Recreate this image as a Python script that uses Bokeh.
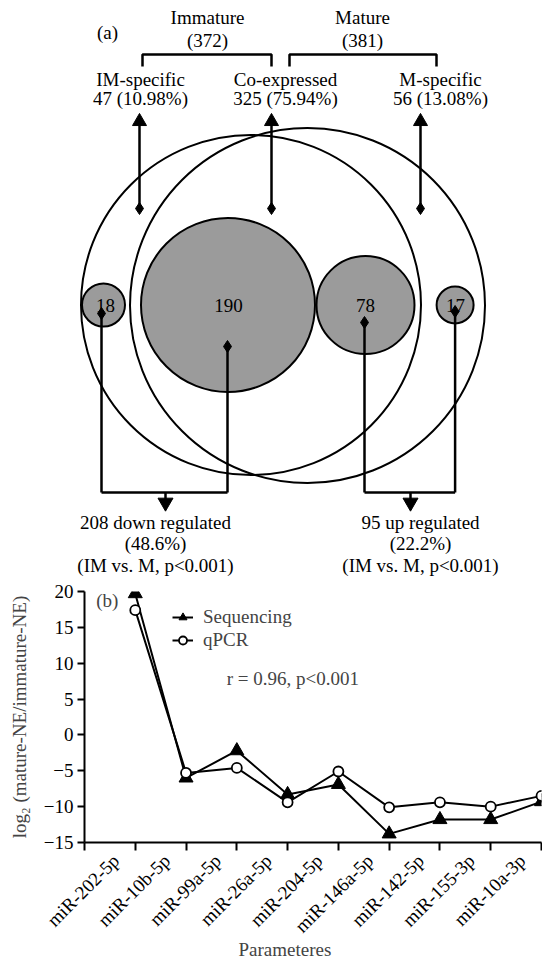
import math
from bokeh.plotting import figure
from bokeh.models import Range1d, Label, Legend, LegendItem, FixedTicker, ColumnDataSource, Title
from bokeh.layouts import column
from bokeh.embed import file_html
from bokeh.resources import INLINE
from bokeh.core.properties import value

# ---------------- data ----------------
group_names = ["Immature", "Mature"]
group_counts = [372, 381]
subset_names = ["IM-specific", "Co-expressed", "M-specific"]
subset_counts = [47, 325, 56]
subset_pcts = [10.98, 75.94, 13.08]
reg_counts = [18, 190, 78, 17]          # IM-spec down, co down, co up, M-spec up
reg_names = ["down regulated", "up regulated"]
reg_pcts = [48.6, 22.2]
reg_note = "(IM vs. M, p<0.001)"

mirnas = ["miR-202-5p", "miR-10b-5p", "miR-99a-5p", "miR-26a-5p", "miR-204-5p",
          "miR-146a-5p", "miR-142-5p", "miR-155-3p", "miR-10a-3p"]
seq_vals = [19.7, -6.0, -2.2, -8.3, -6.9, -13.8, -11.8, -11.8, -9.3]
qpcr_vals = [17.4, -5.3, -4.6, -9.4, -5.1, -10.1, -9.4, -10.0, -8.5]
corr_text = "r = 0.96, p<0.001"

# ---------------- styles / layout ----------------
FONT = "Liberation Serif"
FS = "19px"
W = 542
HA = 580
GRAY = "#9b9b9b"

# panel (a) layout, page pixel coordinates
GX = [207, 362]
BRK = [(142, 271), (289, 436)]
SX = [140, 285, 440]
TOP_ARROW_X = [139, 271, 420]
BIG = [(250.5, 304.5, 170.0), (307.0, 305.0, 177.5)]
SMALL_X = [103, 227.5, 365, 454.6]
SMALL_R = [21.5, 87.0, 49.0, 18.5]
SMALL_Y = 304.5
NUM_X = [105, 228, 365, 455]
DIA_X = [101, 227, 364, 454.6]
DIA_Y = [313, 346, 322, 311]
LOW_Y = 492
SUM_ARROW_X = [165, 410]
SUM_X = [155, 420]

pa = figure(width=W, height=HA, x_range=Range1d(0, W), y_range=Range1d(HA, 0),
            output_backend="svg", toolbar_location=None, min_border=0,
            x_axis_type=None, y_axis_type=None, frame_align=False)
pa.grid.visible = False
pa.outline_line_color = None

# big circles
pa.ellipse(x=[b[0] for b in BIG], y=[b[1] for b in BIG],
           width=[2 * b[2] for b in BIG], height=[2 * b[2] for b in BIG],
           fill_color=None, line_color="black", line_width=2)
# small circles
pa.ellipse(x=SMALL_X, y=[SMALL_Y] * 4, width=[2 * r for r in SMALL_R],
           height=[2 * r for r in SMALL_R], fill_color=GRAY, line_color="black", line_width=2)

# lines
xs, ys = [], []
for (x0, x1) in BRK:
    xs.append([x0, x0, x1, x1]); ys.append([66, 54, 54, 66])
for x in TOP_ARROW_X:
    xs.append([x, x]); ys.append([120, 208])
for i, x in enumerate(DIA_X):
    xs.append([x, x]); ys.append([DIA_Y[i], LOW_Y])
xs.append([DIA_X[0], DIA_X[1]]); ys.append([LOW_Y, LOW_Y])
xs.append([DIA_X[2], DIA_X[3]]); ys.append([LOW_Y, LOW_Y])
for x in SUM_ARROW_X:
    xs.append([x, x]); ys.append([LOW_Y, 503])
pa.multi_line(xs=xs, ys=ys, line_color="black", line_width=2.5)

# arrow heads and diamonds
pa.scatter(x=TOP_ARROW_X, y=[121] * 3, marker="triangle", size=14, color="black")
pa.scatter(x=SUM_ARROW_X, y=[502] * 2, marker="inverted_triangle", size=15, color="black")
pa.scatter(x=TOP_ARROW_X + DIA_X, y=[208] * 3 + DIA_Y, marker="diamond", size=12, color="black")

# texts
tx, ty, tt = [], [], []
tx.append(107); ty.append(32); tt.append("(a)")
for i in range(2):
    tx += [GX[i], GX[i]]; ty += [17, 40]; tt += [group_names[i], f"({group_counts[i]})"]
for i in range(3):
    tx += [SX[i], SX[i]]; ty += [79, 98]
    tt += [subset_names[i], f"{subset_counts[i]} ({subset_pcts[i]:.2f}%)"]
for i in range(4):
    tx.append(NUM_X[i]); ty.append(SMALL_Y); tt.append(str(reg_counts[i]))
sums = [reg_counts[0] + reg_counts[1], reg_counts[2] + reg_counts[3]]
for i in range(2):
    tx += [SUM_X[i]] * 3; ty += [522, 543, 565]
    tt += [f"{sums[i]} {reg_names[i]}", f"({reg_pcts[i]}%)", reg_note]
pa.text(x=tx, y=ty, text=tt, text_font=value(FONT), text_font_size=value(FS),
        text_align="center", text_baseline="middle", text_color="black")

# ---------------- panel (b) ----------------
pb = figure(frame_width=457, frame_height=251, x_range=Range1d(0, 9), y_range=Range1d(-15, 20),
            output_backend="svg", toolbar_location=None, frame_align=False,
            min_border_left=84, min_border_right=1, min_border_top=591 - HA,
            min_border_bottom=960 - 842)
pb.grid.visible = False
pb.outline_line_color = None

xpos = list(range(1, len(mirnas) + 1))
src = ColumnDataSource(dict(x=xpos, seq=seq_vals, q=qpcr_vals))
l1 = pb.line("x", "seq", source=src, line_color="black", line_width=2)
s1 = pb.scatter("x", "seq", source=src, marker="triangle", size=14, color="black")
l2 = pb.line("x", "q", source=src, line_color="black", line_width=2)
s2 = pb.scatter("x", "q", source=src, marker="circle", size=10, fill_color="white",
                line_color="black", line_width=1.8)

for ax in (pb.xaxis[0], pb.yaxis[0]):
    ax.axis_line_width = 2
    ax.major_tick_line_width = 2
    ax.major_tick_in = 0
    ax.minor_tick_line_color = None
    ax.major_label_text_font = FONT
    ax.major_label_text_font_size = FS
    ax.major_label_text_color = "black"
    ax.axis_label_text_font = FONT
    ax.axis_label_text_font_size = FS
    ax.axis_label_text_font_style = "normal"

pb.yaxis.ticker = FixedTicker(ticks=[-15, -10, -5, 0, 5, 10, 15, 20])
pb.yaxis.major_tick_out = 7
pb.yaxis.major_label_standoff = 4
pb.yaxis.axis_label = "log\u2082 (mature-NE/immature-NE)"
pb.yaxis.axis_label_standoff = 11

# labels sit just left of the category boundary ticks (as in the original)
LABEL_SHIFT = 0.38
pb.xaxis.ticker = FixedTicker(ticks=[x - LABEL_SHIFT for x in xpos],
                              minor_ticks=list(range(0, len(mirnas) + 1)))
pb.xaxis.major_label_overrides = {x - LABEL_SHIFT: m for x, m in zip(xpos, mirnas)}
pb.xaxis.major_label_orientation = math.pi / 4
pb.xaxis.major_tick_line_color = None
pb.xaxis.major_tick_out = 0
pb.xaxis.major_label_standoff = 7
pb.xaxis.minor_tick_line_color = "black"
pb.xaxis.minor_tick_line_width = 2
pb.xaxis.minor_tick_out = 8
pb.xaxis.minor_tick_in = 0

pb.add_layout(Title(text="Parameteres", align="left", offset=154, text_font=FONT,
                    text_font_size=FS, text_font_style="normal", standoff=-19), "below")

legend = Legend(items=[LegendItem(label="Sequencing", renderers=[l1, s1]),
                       LegendItem(label="qPCR", renderers=[l2, s2])],
                location=(88, 191), label_text_font=FONT, label_text_font_size=FS,
                glyph_width=21, glyph_height=20, label_height=20, spacing=1,
                padding=0, margin=0, label_standoff=10,
                border_line_color=None, background_fill_alpha=0)
pb.add_layout(legend)

pb.add_layout(Label(x=0.45, y=18.7, text="(b)", text_align="center", text_baseline="middle",
                    text_font=FONT, text_font_size=FS))
pb.add_layout(Label(x=2.80, y=7.8, text=corr_text, text_align="left", text_baseline="middle",
                    text_font=FONT, text_font_size=FS))

layout = column(pa, pb, spacing=0)
open("out.html", "w").write(file_html(layout, INLINE))
